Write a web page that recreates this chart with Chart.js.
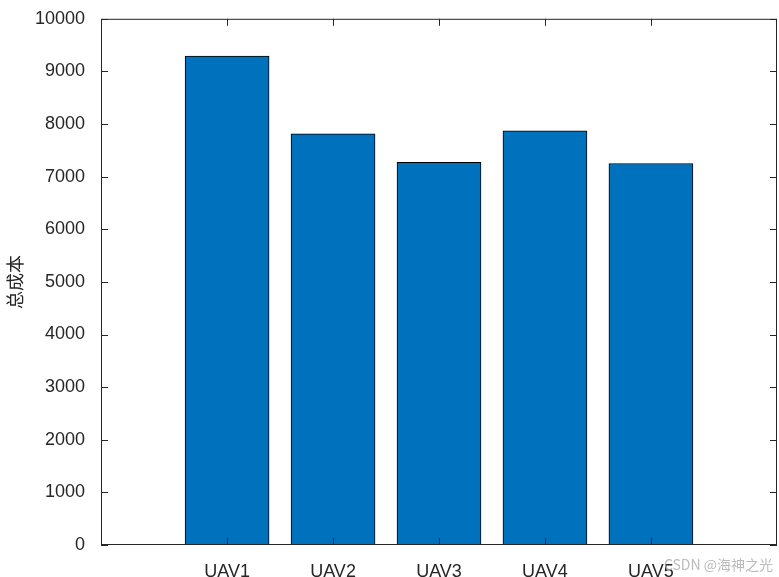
<!DOCTYPE html>
<html>
<head>
<meta charset="utf-8">
<script src="https://cdn.jsdelivr.net/npm/chart.js@4"></script>
<style>
  html, body { margin: 0; padding: 0; background: #fff; }
  #wrap { width: 779px; height: 577px; }
</style>
</head>
<body>
<div id="wrap"><canvas id="bar"></canvas></div>
<script>
const categories = ['UAV1', 'UAV2', 'UAV3', 'UAV4', 'UAV5'];
const costs = [9290, 7815, 7270, 7870, 7250];
const yTicks = [0, 1000, 2000, 3000, 4000, 5000, 6000, 7000, 8000, 9000, 10000];

const font = { family: '"Liberation Sans", Arial, sans-serif', size: 18 };

// box around plot area + inward tick marks, like matlab
const boxPlugin = {
  id: 'box',
  afterDraw(chart) {
    const { ctx, chartArea: a, scales } = chart;
    ctx.save();
    ctx.strokeStyle = '#262626';
    ctx.lineWidth = 1;
    ctx.strokeRect(a.left + 0.5, a.top + 0.5, a.right - a.left - 1, a.bottom - a.top - 1);
    ctx.beginPath();
    yTicks.forEach(v => {
      const y = Math.round(scales.y.getPixelForValue(v)) + 0.5;
      ctx.moveTo(a.left, y); ctx.lineTo(a.left + 7, y);
      ctx.moveTo(a.right, y); ctx.lineTo(a.right - 7, y);
    });
    categories.forEach((c, i) => {
      const x = Math.round(scales.x.getPixelForValue(i + 1)) + 0.5;
      ctx.moveTo(x, a.bottom); ctx.lineTo(x, a.bottom - 7);
      ctx.moveTo(x, a.top); ctx.lineTo(x, a.top + 7);
    });
    ctx.stroke();
    ctx.fillStyle = 'rgba(170,170,170,0.8)';
    ctx.font = '14px "Noto Sans CJK SC", sans-serif';
    ctx.textAlign = 'right';
    ctx.fillText('CSDN @海神之光', 773, 570);
    ctx.restore();
  }
};

new Chart(document.getElementById('bar'), {
  type: 'bar',
  data: {
    datasets: [{
      data: costs.map((v, i) => ({ x: i + 1, y: v })),
      backgroundColor: '#0072BD',
      borderColor: '#000000',
      borderWidth: 1,
      barThickness: 84
    }]
  },
  options: {
    responsive: true,
    maintainAspectRatio: false,
    animation: false,
    layout: { padding: { top: 1, right: 2, left: 0, bottom: 0 } },
    plugins: { legend: { display: false }, tooltip: { enabled: false } },
    scales: {
      x: {
        type: 'linear',
        offset: false,
        min: -0.19,
        max: 6.19,
        afterBuildTicks(s) { s.ticks = categories.map((c, i) => ({ value: i + 1 })); },
        afterFit(s) { s.height = 32; },
        ticks: {
          callback: v => categories[v - 1] || '',
          color: '#262626',
          font,
          padding: 8
        },
        grid: { display: false },
        border: { display: false }
      },
      y: {
        min: 0,
        max: 10000,
        afterBuildTicks(s) { s.ticks = yTicks.map(v => ({ value: v })); },
        afterFit(s) { s.width = 101; },
        ticks: { color: '#262626', font, padding: 8, callback: v => String(v) },
        title: {
          display: true,
          text: '总成本',
          color: '#262626',
          font: { family: '"Noto Sans CJK SC", sans-serif', size: 18 },
          padding: { bottom: 4 }
        },
        grid: { display: false },
        border: { display: false }
      }
    }
  },
  plugins: [boxPlugin]
});
</script>
</body>
</html>
